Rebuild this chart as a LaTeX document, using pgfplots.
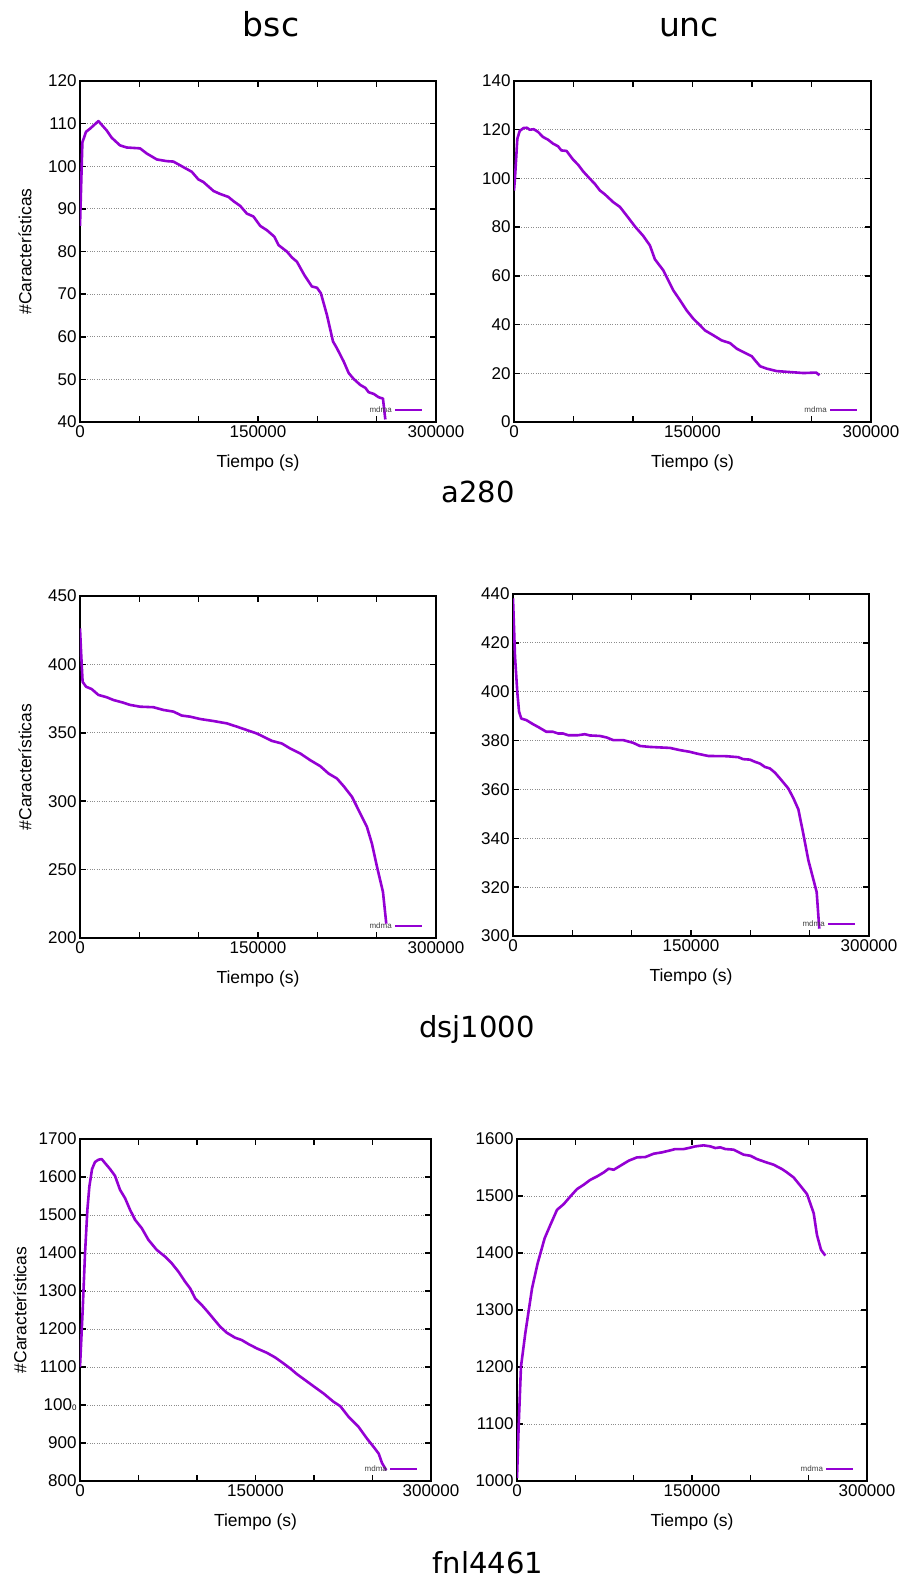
\documentclass[border=0pt]{standalone}
\usepackage{pgfplots}
\pgfplotsset{compat=1.18}
\usepackage{fontspec}
\setmainfont{Liberation Sans}
\newfontfamily\dejavu{DejaVu Sans}
\definecolor{mdma}{RGB}{148,0,211}
\pgfplotsset{
  panel/.style={
    scale only axis,
    anchor=south west,
    xmin=0, xmax=300000,
    xtick={0,50000,100000,150000,200000,250000,300000},
    xticklabels={0,,,150000,,,300000},
    scaled ticks=false,
    /pgf/number format/1000 sep={},
    /pgf/number format/assume math mode=true,
    tick label style={font=\fontsize{17}{19}\selectfont},
    label style={font=\fontsize{17.5}{20}\selectfont},
    tick align=inside,
    major tick length=6pt,
    tick style={black, line width=1.5pt},
    axis line style={line width=2pt},
    ymajorgrids,
    major grid style={dotted, gray!90, line width=1pt},
    xlabel={Tiempo (s)},
    legend plot pos=right,
    legend cell align=right,
    legend image code/.code={\draw[#1] (0pt,0pt) -- (27pt,0pt);},
    legend style={draw=none, fill=none, font=\fontsize{8}{9}\selectfont, text=darkgray,
      at={(axis description cs:0.965,0.018)}, anchor=south east, inner sep=0pt},
  },
  curve/.style={color=mdma, line width=2.6pt, line join=round, mark=none},
}
\begin{document}
\begin{tikzpicture}
\useasboundingbox (0pt,0pt) rectangle (903pt,-1579pt);
\node[font=\dejavu\fontsize{33}{36}\selectfont, anchor=base] at (271pt,-37pt) {bsc};
\node[font=\dejavu\fontsize{33}{36}\selectfont, anchor=base] at (689pt,-37pt) {unc};
\node[font=\dejavu\fontsize{29}{32}\selectfont, anchor=base] at (478pt,-502pt) {a280};
\node[font=\dejavu\fontsize{29}{32}\selectfont, anchor=base] at (477pt,-1037pt) {dsj1000};
\node[font=\dejavu\fontsize{29}{32}\selectfont, anchor=base] at (488pt,-1573pt) {fnl4461};

% a280 bsc
\begin{axis}[panel, at={(80pt,-422pt)}, width=356pt, height=341pt,
  ymin=40, ymax=120, ytick={40,50,...,120},
  ylabel={\#Características},
  ylabel style={at={(axis description cs:-0.1545,0.5)}, anchor=center},
  xlabel style={at={(axis description cs:0.5,-0.12)}, anchor=center}]
\addplot[curve] coordinates {
(0,86) (2000,105.6) (5100,108.1) (8400,108.8) (15500,110.6) (22500,108.4) (26700,106.7)
(33700,104.9) (39400,104.4) (50600,104.2) (56200,103.0) (64700,101.6) (73100,101.2)
(78700,101.1) (85800,100.0) (94200,98.7) (99800,96.9) (104000,96.3) (112500,94.2)
(118100,93.5) (125100,92.8) (129400,91.8) (135000,90.7) (140600,88.9) (146200,88.2)
(151900,86.0) (157500,85.0) (163700,83.5) (167300,81.5) (174300,80.0) (178600,78.6)
(182800,77.6) (189000,74.5) (195400,71.8) (199700,71.5) (203000,70.2) (208100,65.1)
(213200,58.9) (216500,57.3) (222200,54.2) (226400,51.5) (230600,50.1) (236200,48.7)
(240500,48.0) (243200,47.0) (247500,46.6) (251700,45.8) (255300,45.5) (257300,40.6)
};
\addlegendentry{mdma}
\end{axis}

% a280 unc
\begin{axis}[panel, at={(514pt,-422pt)}, width=357pt, height=341pt,
  ymin=0, ymax=140, ytick={0,20,...,140},
  xlabel style={at={(axis description cs:0.5,-0.12)}, anchor=center}]
\addplot[curve] coordinates {
(0,95) (800,100) (2800,116.3) (4800,119.5) (8100,120.7) (10900,120.8) (13200,120.0)
(16600,120.2) (20200,119.1) (24400,117.0) (28600,115.9) (32800,114.3) (37000,113.2)
(39800,111.5) (44100,111.3) (46900,109.5) (49700,107.7) (53900,105.6) (58100,102.9)
(63700,99.9) (67900,97.8) (72100,95.1) (76300,93.5) (83300,90.3) (89000,88.3)
(94600,84.8) (101600,80.3) (108600,76.4) (114200,72.5) (118400,66.8) (125400,62.3)
(129600,58.2) (133800,54.1) (139500,50.0) (145100,45.8) (150700,42.4) (156300,39.7)
(160500,37.6) (167500,35.6) (174500,33.5) (181500,32.4) (187200,30.1) (192800,28.7)
(199800,27.0) (202600,25.3) (206800,22.9) (212400,21.9) (220800,20.9) (232100,20.5)
(243300,20.1) (253900,20.3) (256700,19.2)
};
\addlegendentry{mdma}
\end{axis}

% dsj1000 bsc
\begin{axis}[panel, at={(80pt,-938pt)}, width=356pt, height=342pt,
  ymin=200, ymax=450, ytick={200,250,...,450},
  ylabel={\#Características},
  ylabel style={at={(axis description cs:-0.1545,0.5)}, anchor=center},
  xlabel style={at={(axis description cs:0.5,-0.12)}, anchor=center}]
\addplot[curve] coordinates {
(0,426.3) (1100,405.6) (2200,387.3) (5100,383.7) (9800,382.0) (15500,377.7) (22500,376.0)
(28100,374.0) (36600,372.0) (42200,370.4) (50600,369.1) (61900,368.7) (70300,366.7)
(78700,365.5) (85800,362.6) (92800,361.8) (101200,360.1) (112500,358.6) (123700,356.9)
(132200,354.5) (140600,352.0) (149000,349.5) (154700,347.1) (161700,344.1) (170100,342.2)
(177200,338.5) (185600,334.9) (194000,330.0) (202500,325.6) (209500,320.2) (216500,316.6)
(222200,311.0) (229200,303.2) (236200,291.0) (241800,281.2) (246000,269.0) (250300,252.0)
(255300,233.7) (258100,210.5)
};
\addlegendentry{mdma}
\end{axis}

% dsj1000 unc
\begin{axis}[panel, at={(513pt,-936pt)}, width=356pt, height=342pt,
  ymin=300, ymax=440, ytick={300,320,...,440},
  xlabel style={at={(axis description cs:0.5,-0.12)}, anchor=center}]
\addplot[curve] coordinates {
(0,438.2) (1700,414.3) (3700,399.3) (5100,391.8) (7000,389.0) (11200,388.4) (16900,386.7)
(21100,385.6) (28100,383.6) (33700,383.6) (38000,382.9) (42200,382.9) (46400,382.2)
(54800,382.2) (60500,382.6) (64700,382.1) (73100,381.9) (78700,381.3) (84400,380.2)
(92800,380.2) (101200,379.1) (106900,377.8) (115300,377.4) (132200,377.0) (140600,376.1)
(149000,375.4) (154700,374.7) (164500,373.7) (180000,373.6) (189800,373.2) (194000,372.4)
(199700,372.2) (203900,371.3) (208100,370.6) (212300,369.2) (216500,368.6) (220700,366.9)
(225000,364.5) (232000,360.4) (236200,356.5) (240500,351.8) (244600,341.9) (248900,331.0)
(255900,318.0) (258100,303.0)
};
\addlegendentry{mdma}
\end{axis}

% fnl4461 bsc
\begin{axis}[panel, at={(80pt,-1481pt)}, width=351pt, height=342pt,
  ymin=800, ymax=1700, ytick={800,900,...,1700},
  yticklabels={800,900,100{\fontsize{8}{9}\selectfont 0},1100,1200,1300,1400,1500,1600,1700},
  ylabel={\#Características},
  ylabel style={at={(axis description cs:-0.171,0.5)}, anchor=center},
  xlabel style={at={(axis description cs:0.5,-0.12)}, anchor=center}]
\addplot[curve] coordinates {
(0,1100) (2300,1250) (4300,1399.4) (6300,1513.7) (8000,1575.2) (10300,1620.9) (12800,1639.4)
(15700,1645.5) (18500,1647.3) (21400,1636.7) (25700,1620.9) (29900,1603.3) (34200,1566.4)
(38500,1544.4) (42800,1513.7) (47100,1487.3) (52800,1465.3) (58500,1434.6) (65600,1408.2)
(72700,1390.6) (78400,1373.0) (84100,1351.1) (89800,1324.7) (94100,1307.1) (98400,1280.8)
(104100,1263.2) (109800,1243.0) (115500,1221.9) (119800,1206.1) (125500,1190.2)
(132600,1177.1) (138300,1170.9) (144000,1160.4) (151200,1148.9) (159700,1137.5)
(166800,1125.2) (174000,1109.4) (179700,1096.2) (185400,1081.3) (192500,1065.4)
(201100,1046.1) (208200,1030.3) (216800,1008.3) (222500,996.9) (229600,968.8)
(238100,942.4) (245300,911.6) (251000,889.6) (255300,872.0) (258100,847.5) (261800,828.2)
};
\addlegendentry{mdma}
\end{axis}

% fnl4461 unc
\begin{axis}[panel, at={(517pt,-1481pt)}, width=350pt, height=342pt,
  ymin=1000, ymax=1600, ytick={1000,1100,...,1600},
  xlabel style={at={(axis description cs:0.5,-0.12)}, anchor=center}]
\addplot[curve] coordinates {
(0,1005) (1400,1094.9) (3400,1200.4) (7100,1259.0) (12900,1338.1) (17700,1382.0)
(23700,1426.0) (28600,1449.4) (34300,1475.8) (40000,1485.7) (45700,1499.2) (51400,1512.1)
(57100,1519.7) (62900,1528.5) (68600,1534.4) (74300,1541.4) (78600,1547.9) (82900,1546.1)
(88600,1553.1) (95700,1561.9) (102900,1567.8) (110000,1568.4) (117100,1574.2)
(124300,1576.6) (131400,1580.1) (135700,1582.4) (142900,1582.4) (147100,1584.2)
(152900,1587.1) (160000,1588.9) (165700,1587.1) (170000,1584.2) (174300,1585.4)
(178600,1582.4) (185700,1581.3) (194300,1572.5) (200000,1570.7) (205700,1564.8)
(212900,1559.6) (220000,1554.9) (227100,1547.3) (231400,1541.4) (237100,1532.6)
(242900,1518.0) (248600,1503.3) (254300,1469.9) (257100,1431.8) (260600,1405.5)
(264300,1395.5)
};
\addlegendentry{mdma}
\end{axis}
\end{tikzpicture}
\end{document}
